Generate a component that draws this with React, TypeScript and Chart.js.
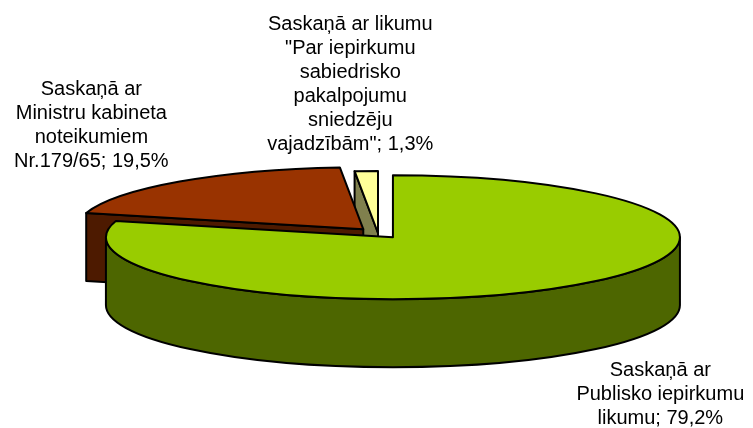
import React, { useEffect, useRef } from "react";
import { Chart, registerables } from "chart.js";

Chart.register(...registerables);

// ---- data ----
const categories: string[][] = [
  ["Saskaņā ar", "Publisko iepirkumu", "likumu"],
  ["Saskaņā ar", "Ministru kabineta", "noteikumiem", "Nr.179/65"],
  ["Saskaņā ar likumu", "\"Par iepirkumu", "sabiedrisko", "pakalpojumu", "sniedzēju", "vajadzībām\""],
];
const values: number[] = [79.2, 19.5, 1.3];

// ---- styles ----
const topColors = ["#99CC00", "#993300", "#FFFF99"];
const sideColors = ["#4D6600", "#4D1A00", "#80804D"];
const explode = [16, 15, 0];

const RX = 287;
const RY = 62;
const DEPTH = 68;
const LABEL_GAP_X = 9;
const LABEL_GAP_Y = 2;
const LINE_H = 24;
const LABEL_NUDGE = [
  [0, 2],
  [-2, -6],
  [-16, -13],
];
const FONT = "20px 'Liberation Sans', Arial, sans-serif";

function formatPct(v: number) {
  return v.toFixed(1).replace(".", ",") + "%";
}

function getSlices(chart: any) {
  const meta = chart.getDatasetMeta(0);
  return meta.data.map((arc: any, i: number) => {
    const p = arc.getProps(["x", "y", "startAngle", "endAngle", "outerRadius"], true);
    const sx = RX / p.outerRadius;
    const sy = RY / p.outerRadius;
    const mid = (p.startAngle + p.endAngle) / 2;
    const off = explode[i] || 0;
    const cx = p.x + Math.cos(mid) * off * sx;
    const cy = p.y + Math.sin(mid) * off * sy;
    return {
      i,
      cx,
      cy,
      rx: p.outerRadius * sx,
      ry: p.outerRadius * sy,
      s: p.startAngle,
      e: p.endAngle,
      mid,
    };
  });
}

const pie3d = {
  id: "pie3d",
  beforeDatasetsDraw(chart: any) {
    const ctx: CanvasRenderingContext2D = chart.ctx;
    const slices = getSlices(chart);
    const order = [...slices].sort(
      (a: any, b: any) => a.cy + a.ry * Math.sin(a.mid) - (b.cy + b.ry * Math.sin(b.mid))
    );
    ctx.save();
    ctx.lineWidth = 2;
    ctx.strokeStyle = "#000";
    ctx.lineJoin = "round";

    const wall = (sl: any, a: number, color: string) => {
      const x1 = sl.cx + sl.rx * Math.cos(a);
      const y1 = sl.cy + sl.ry * Math.sin(a);
      ctx.beginPath();
      ctx.moveTo(sl.cx, sl.cy);
      ctx.lineTo(x1, y1);
      ctx.lineTo(x1, y1 + DEPTH);
      ctx.lineTo(sl.cx, sl.cy + DEPTH);
      ctx.closePath();
      ctx.fillStyle = color;
      ctx.fill();
      ctx.stroke();
    };

    for (const sl of order) {
      const side = sideColors[sl.i];
      if (Math.cos(sl.s) < -1e-6) wall(sl, sl.s, side);
      if (Math.cos(sl.e) > 1e-6) wall(sl, sl.e, side);
      for (let k = -1; k <= 1; k++) {
        const a0 = Math.max(sl.s, 2 * Math.PI * k);
        const a1 = Math.min(sl.e, 2 * Math.PI * k + Math.PI);
        if (a1 > a0) {
          ctx.beginPath();
          ctx.ellipse(sl.cx, sl.cy, sl.rx, sl.ry, 0, a0, a1, false);
          ctx.lineTo(sl.cx + sl.rx * Math.cos(a1), sl.cy + sl.ry * Math.sin(a1) + DEPTH);
          ctx.ellipse(sl.cx, sl.cy + DEPTH, sl.rx, sl.ry, 0, a1, a0, true);
          ctx.closePath();
          ctx.fillStyle = side;
          ctx.fill();
          ctx.stroke();
        }
      }
      ctx.beginPath();
      ctx.moveTo(sl.cx, sl.cy);
      ctx.ellipse(sl.cx, sl.cy, sl.rx, sl.ry, 0, sl.s, sl.e, false);
      ctx.closePath();
      ctx.fillStyle = topColors[sl.i];
      ctx.fill();
      ctx.stroke();
    }
    ctx.restore();
    return false;
  },
  afterDraw(chart: any) {
    const ctx: CanvasRenderingContext2D = chart.ctx;
    const slices = getSlices(chart);
    ctx.save();
    ctx.font = FONT;
    ctx.fillStyle = "#000";
    ctx.textAlign = "center";
    ctx.textBaseline = "middle";
    for (const sl of slices) {
      const lines = [...categories[sl.i]];
      lines[lines.length - 1] = lines[lines.length - 1] + "; " + formatPct(values[sl.i]);
      const c = Math.cos(sl.mid);
      const s = Math.sin(sl.mid);
      const ax = sl.cx + sl.rx * c;
      const ay = sl.cy + sl.ry * s + (s > 0 ? DEPTH : 0);
      const maxW = Math.max(...lines.map((l) => ctx.measureText(l).width));
      const blockH = lines.length * LINE_H;
      let centerX = ax;
      if (c > 0.3) centerX = ax + LABEL_GAP_X + maxW / 2;
      else if (c < -0.3) centerX = ax - LABEL_GAP_X - maxW / 2;
      let top = s > 0 ? ay + LABEL_GAP_Y : ay - LABEL_GAP_Y - blockH;
      const nudge = LABEL_NUDGE[sl.i] || [0, 0];
      centerX += nudge[0];
      top += nudge[1];
      lines.forEach((l, k) => {
        ctx.fillText(l, centerX, top + LINE_H / 2 + k * LINE_H);
      });
    }
    ctx.restore();
  },
};

export default function App() {
  const ref = useRef<HTMLCanvasElement | null>(null);
  useEffect(() => {
    if (!ref.current) return;
    const chart = new Chart(ref.current, {
      type: "pie",
      data: {
        labels: categories.map((c) => c.join(" ")),
        datasets: [
          {
            data: values,
            backgroundColor: topColors,
            borderWidth: 0,
            offset: explode,
          } as any,
        ],
      },
      options: {
        responsive: false,
        animation: false,
        devicePixelRatio: 1,
        layout: { padding: { left: 3, right: 0, top: 38, bottom: 0 } },
        plugins: {
          legend: { display: false },
          tooltip: { enabled: false },
        },
        events: [],
      },
      plugins: [pie3d as any],
    });
    return () => chart.destroy();
  }, []);
  return (
    <div style={{ position: "absolute", left: 0, top: 0, width: 753, height: 428, background: "#fff" }}>
      <canvas ref={ref} width={753} height={428} style={{ display: "block" }} />
    </div>
  );
}
